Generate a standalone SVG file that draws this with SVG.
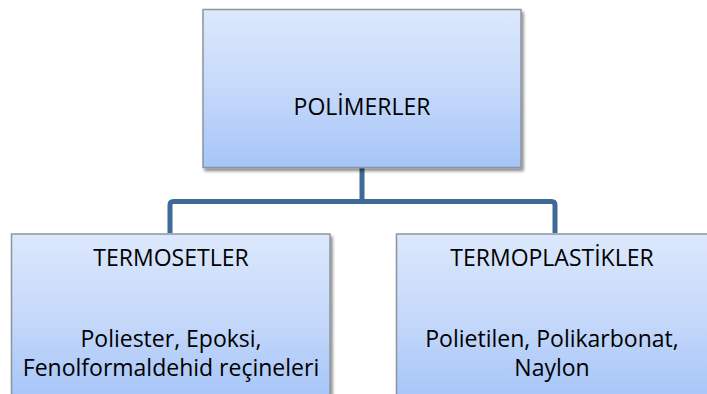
<svg xmlns="http://www.w3.org/2000/svg" width="707" height="394" viewBox="0 0 707 394">
<defs>
<linearGradient id="g" x1="0" y1="0" x2="0" y2="1">
<stop offset="0" stop-color="#dce8fc"/>
<stop offset="0.5" stop-color="#c6d9fa"/>
<stop offset="1" stop-color="#a6c5f8"/>
</linearGradient>
<filter id="sh" x="-5%" y="-5%" width="115%" height="120%">
<feGaussianBlur in="SourceAlpha" stdDeviation="1.5"/>
<feOffset dx="2" dy="2.5" result="b"/>
<feComponentTransfer><feFuncA type="linear" slope="0.45"/></feComponentTransfer>
<feMerge><feMergeNode/><feMergeNode in="SourceGraphic"/></feMerge>
</filter>
</defs>
<style>
.box{fill:url(#g);stroke:#8c959f;stroke-width:1.5;filter:url(#sh)}
.t{font-family:"Open Sans","Liberation Sans",sans-serif;font-size:23px;fill:#000;text-anchor:middle}
.c{fill:none;stroke:#3f6a98;stroke-width:5;stroke-linejoin:round}
</style>
<rect width="707" height="394" fill="#fff"/>
<g id="connectors">
<path class="c" d="M362 168 V201.5 M170 233 V205 Q170 201.5 173.5 201.5 H551.5 Q555 201.5 555 205 V233"/>
</g>
<g id="polimerler">
<rect class="box" x="203" y="9.5" width="318" height="158"/>
<text class="t" x="362" y="115">POLİMERLER</text>
</g>
<g id="termosetler">
<rect class="box" x="11.5" y="234" width="318.5" height="165"/>
<text class="t" x="171" y="266">TERMOSETLER</text>
<text class="t" x="171" y="347">Poliester, Epoksi,</text>
<text class="t" x="171" y="376">Fenolformaldehid reçineleri</text>
</g>
<g id="termoplastikler">
<rect class="box" x="396.5" y="234" width="318" height="165"/>
<text class="t" x="552" y="266">TERMOPLASTİKLER</text>
<text class="t" x="552" y="347">Polietilen, Polikarbonat,</text>
<text class="t" x="552" y="376">Naylon</text>
</g>
</svg>
